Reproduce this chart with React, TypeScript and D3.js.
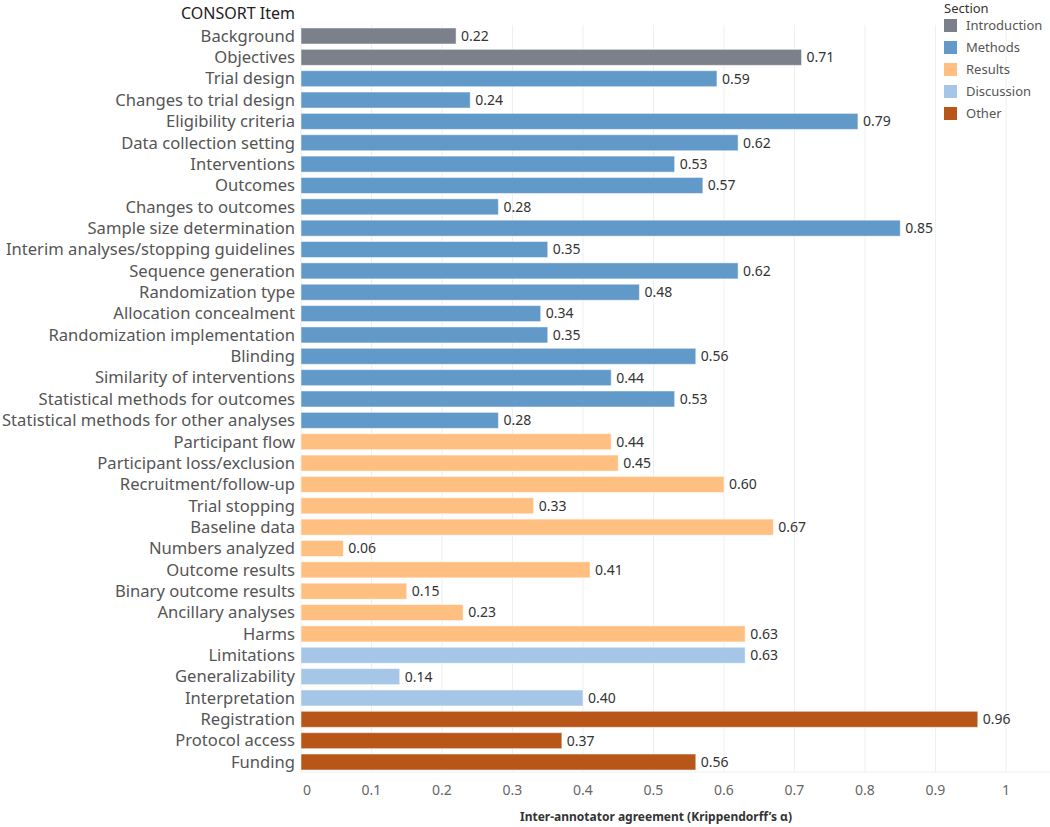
import React from "react";
import * as d3 from "d3";

const categories = [
  "Background", "Objectives", "Trial design", "Changes to trial design", "Eligibility criteria",
  "Data collection setting", "Interventions", "Outcomes", "Changes to outcomes", "Sample size determination",
  "Interim analyses/stopping guidelines", "Sequence generation", "Randomization type", "Allocation concealment",
  "Randomization implementation", "Blinding", "Similarity of interventions", "Statistical methods for outcomes",
  "Statistical methods for other analyses", "Participant flow", "Participant loss/exclusion", "Recruitment/follow-up",
  "Trial stopping", "Baseline data", "Numbers analyzed", "Outcome results", "Binary outcome results",
  "Ancillary analyses", "Harms", "Limitations", "Generalizability", "Interpretation", "Registration",
  "Protocol access", "Funding",
];
const values = [
  0.22, 0.71, 0.59, 0.24, 0.79, 0.62, 0.53, 0.57, 0.28, 0.85, 0.35, 0.62, 0.48, 0.34, 0.35, 0.56, 0.44, 0.53,
  0.28, 0.44, 0.45, 0.60, 0.33, 0.67, 0.06, 0.41, 0.15, 0.23, 0.63, 0.63, 0.14, 0.40, 0.96, 0.37, 0.56,
];
const sections = [
  "Introduction", "Introduction",
  "Methods", "Methods", "Methods", "Methods", "Methods", "Methods", "Methods", "Methods", "Methods", "Methods",
  "Methods", "Methods", "Methods", "Methods", "Methods", "Methods", "Methods",
  "Results", "Results", "Results", "Results", "Results", "Results", "Results", "Results", "Results", "Results",
  "Discussion", "Discussion", "Discussion",
  "Other", "Other", "Other",
];
const sectionNames = ["Introduction", "Methods", "Results", "Discussion", "Other"];
const sectionColors = ["#7b808a", "#6199c9", "#ffbf80", "#a5c6e6", "#b8561a"];
const xTicks = [0, 0.1, 0.2, 0.3, 0.4, 0.5, 0.6, 0.7, 0.8, 0.9, 1];

const FONT = "'Noto Sans', sans-serif";

export default function App() {
  const W = 1050, H = 827;
  const x = d3.scaleLinear().domain([0, 1]).range([301, 1006]);
  const y = d3.scaleBand().domain(categories).range([25.3, 772.7]).paddingInner(0.25).paddingOuter(0.125);
  const color = d3.scaleOrdinal<string, string>().domain(sectionNames).range(sectionColors);
  const fmt = d3.format(".2f");
  const tickFmt = (v: number) => (v === 0 ? "0" : v === 1 ? "1" : d3.format(".1f")(v));

  return (
    <svg width={W} height={H} style={{ position: "absolute", left: 0, top: 0, background: "#fff" }} fontFamily={FONT}>
      {xTicks.map((t) => (
        <line key={"g" + t} x1={x(t)} x2={x(t)} y1={25} y2={772} stroke="#efefef" strokeWidth={1} />
      ))}
      <line x1={301} x2={1050} y1={772} y2={772} stroke="#efefef" strokeWidth={1} />
      <text x={295} y={19} textAnchor="end" fontSize={16} fill="#222">CONSORT Item</text>
      {categories.map((c, i) => {
        const yy = y(c)!;
        const bw = y.bandwidth();
        return (
          <g key={c}>
            <text x={295} y={yy + bw / 2} dy="0.35em" textAnchor="end" fontSize={16.6} fill="#555">{c}</text>
            <rect x={x(0)} y={yy} width={x(values[i]) - x(0)} height={bw} fill={color(sections[i])}
              stroke="#ffffff" strokeOpacity={0.5} strokeWidth={1} />
            <text x={x(values[i]) + 5} y={yy + bw / 2} dy="0.35em" fontSize={14} fill="#333">{fmt(values[i])}</text>
          </g>
        );
      })}
      {xTicks.map((t) => (
        <text key={"t" + t} x={t === 0 ? x(t) + 6 : x(t)} y={795} textAnchor="middle" fontSize={14} fill="#666">{tickFmt(t)}</text>
      ))}
      <text x={656} y={821} textAnchor="middle" fontSize={12} fontWeight="bold" fill="#333">Inter-annotator agreement (Krippendorff’s α)</text>
      <text x={944} y={13} fontSize={13} fill="#333">Section</text>
      {sectionNames.map((s, i) => (
        <g key={s}>
          <rect x={944} y={19 + i * 22} width={13} height={13} fill={sectionColors[i]} />
          <text x={966} y={25.5 + i * 22} dy="0.35em" fontSize={13} fill="#555">{s}</text>
        </g>
      ))}
    </svg>
  );
}
